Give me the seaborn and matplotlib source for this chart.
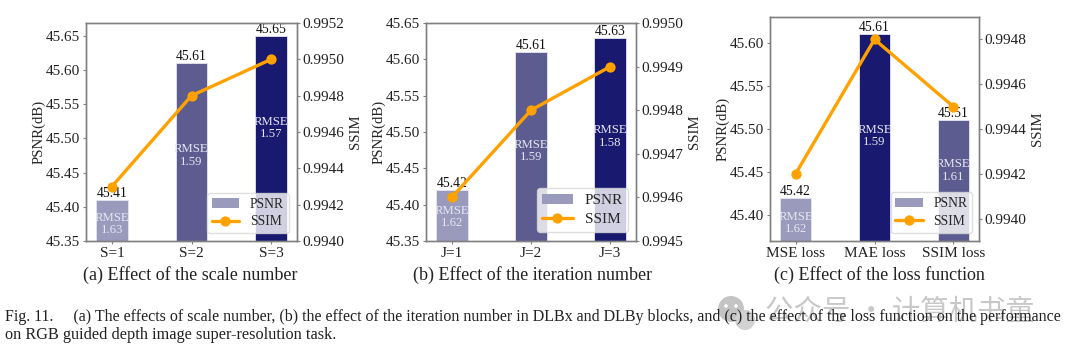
# three small bar + line panels: PSNR bars with RMSE labels, SSIM line on twin axis
import seaborn as sns
import pandas as pd
from matplotlib import pyplot as plt
from matplotlib.patches import Patch, Circle
from matplotlib.lines import Line2D

scale_cats = ["S=1", "S=2", "S=3"]
scale_psnr = [45.41, 45.61, 45.65]
scale_ssim = [0.9943, 0.9948, 0.9950]
scale_rmse = [1.63, 1.59, 1.57]

iter_cats = ["J=1", "J=2", "J=3"]
iter_psnr = [45.42, 45.61, 45.63]
iter_ssim = [0.9946, 0.9948, 0.9949]
iter_rmse = [1.62, 1.59, 1.58]

loss_cats = ["MSE loss", "MAE loss", "SSIM loss"]
loss_psnr = [45.42, 45.61, 45.51]
loss_ssim = [0.9942, 0.9948, 0.9945]
loss_rmse = [1.62, 1.59, 1.61]

W, H = 1069, 355
LIGHT, MID, DARK = "#9a9abd", "#5c5c91", "#191970"
ORANGE = "#ffa200"
GREY = "#808080"

sns.set_theme(style="ticks")
plt.rcParams["font.family"] = ["Liberation Serif", "DejaVu Serif"]


def panel(fig, box, cats, psnr, ssim, rmse, colors, rmse_y, ylim, y2lim, yticks, y2ticks,
          caption, cap_x, legend_box, legend_size):
    # box is left, top, right, bottom in pixels of the picture
    l, t, r, b = box
    ax = fig.add_axes([l / W, 1 - b / H, (r - l) / W, (b - t) / H])
    df = pd.DataFrame({"cat": cats, "psnr": psnr})
    sns.barplot(data=df, x="cat", y="psnr", hue="cat", palette=colors, width=0.4, legend=False, saturation=1,
                edgecolor="#e4e4f0", linewidth=0.6, ax=ax)
    ax.set_xlim(-0.325, 2.325)
    ax.set_ylim(*ylim)
    ax.set_yticks(yticks)
    ax.set_yticklabels(["%.2f" % v for v in yticks])
    ax.set_xlabel("")
    ax.set_ylabel("PSNR(dB)", fontsize=10.7, labelpad=0.5)
    for i, v in enumerate(psnr):
        ax.text(i, v, "%.2f" % v, ha="center", va="bottom", fontsize=9.8, color="#111111")
        ax.text(i, rmse_y[i], "RMSE\n%.2f" % rmse[i], ha="center", va="center", fontsize=9.2,
                color="#e6e6f2", linespacing=1.05)

    ax2 = ax.twinx()
    sns.lineplot(x=cats, y=ssim, color=ORANGE, linewidth=2.4, marker="o", markersize=7.4, markeredgewidth=0,
                 sort=False, errorbar=None, legend=False, ax=ax2)
    ax2.set_ylim(*y2lim)
    ax2.set_yticks(y2ticks)
    ax2.set_yticklabels(["%.4f" % v for v in y2ticks])
    ax2.set_ylabel("SSIM", fontsize=10.7, labelpad=3)

    for a in [ax, ax2]:
        a.tick_params(axis="both", labelsize=11, length=2.5, width=0.8, color=GREY, pad=1.5, labelcolor="#222222")
        for s in a.spines.values():
            s.set_color(GREY)
            s.set_linewidth(1.0)
            s.set_visible(True)

    handles = [Patch(facecolor=LIGHT, edgecolor="none", label="PSNR"),
               Line2D([], [], color=ORANGE, linewidth=2.4, marker="o", markersize=7.4, markeredgewidth=0, label="SSIM")]
    lx0, ly0, lx1, ly1 = legend_box
    ax2.legend(handles=handles, loc="center", fontsize=legend_size, frameon=True, framealpha=0.8, edgecolor="#d8d8d8",
               bbox_to_anchor=((lx0 + lx1) / 2 / W, 1 - (ly0 + ly1) / 2 / H), bbox_transform=fig.transFigure,
               borderpad=0.35, labelspacing=0.35, handlelength=2.0, handletextpad=0.8, borderaxespad=0)
    fig.text(cap_x / W, 1 - 275 / H, caption, ha="center", va="center", fontsize=13, color="#222222")


fig = plt.figure(figsize=(W / 100, H / 100), dpi=100)

panel(fig, (86, 23, 297, 241), scale_cats, scale_psnr, scale_ssim, scale_rmse, [LIGHT, MID, DARK],
      [45.375, 45.475, 45.515], (45.35, 45.669), (0.9940, 0.9952),
      [45.35, 45.40, 45.45, 45.50, 45.55, 45.60, 45.65], [0.9940, 0.9942, 0.9944, 0.9946, 0.9948, 0.9950, 0.9952],
      "(a) Effect of the scale number", 190, (207, 193, 289, 233), 9.8)

panel(fig, (426, 23, 636, 241), iter_cats, iter_psnr, iter_ssim, iter_rmse, [LIGHT, MID, DARK],
      [45.383, 45.474, 45.494], (45.35, 45.65), (0.9945, 0.9950),
      [45.35, 45.40, 45.45, 45.50, 45.55, 45.60, 45.65], [0.9945, 0.9946, 0.9947, 0.9948, 0.9949, 0.9950],
      "(b) Effect of the iteration number", 533, (537, 187, 628, 233), 11)

panel(fig, (770, 17, 979, 241), loss_cats, loss_psnr, loss_ssim, loss_rmse, [LIGHT, DARK, MID],
      [45.391, 45.492, 45.452], (45.37, 45.63), (0.9939, 0.9949),
      [45.40, 45.45, 45.50, 45.55, 45.60], [0.9940, 0.9942, 0.9944, 0.9946, 0.9948],
      "(c) Effect of the loss function", 879, (890, 192, 973, 233), 9.8)

# watermark goes under the figure caption
ic = fig.add_axes([715 / W, 1 - 335 / H, 45 / W, 45 / H])
ic.axis("off")
ic.set_xlim(715, 760)
ic.set_ylim(335, 290)
ic.add_patch(Circle((731, 309), 13, color="#c4c4c4", lw=0))
ic.add_patch(Circle((745, 320), 10, color="#d2d2d2", lw=0))
ic.add_patch(Circle((726, 306), 1.8, color="white", lw=0))
ic.add_patch(Circle((736, 306), 1.8, color="white", lw=0))
fig.text(765 / W, 1 - 312 / H, "公众号 · 计算机书童", ha="left", va="center", fontsize=20.5,
         color="#c8c8c8", family=["Noto Sans CJK SC", "DejaVu Sans"])

fig.text(5 / W, 1 - 317 / H, "Fig. 11.     (a) The effects of scale number, (b) the effect of the iteration number in DLBx and DLBy blocks, and (c) the effect of the loss function on the performance",
         ha="left", va="center", fontsize=11.5, color="#222222")
fig.text(5 / W, 1 - 335 / H, "on RGB guided depth image super-resolution task.", ha="left", va="center", fontsize=11.7, color="#222222")

plt.savefig("out.png", dpi=100)
